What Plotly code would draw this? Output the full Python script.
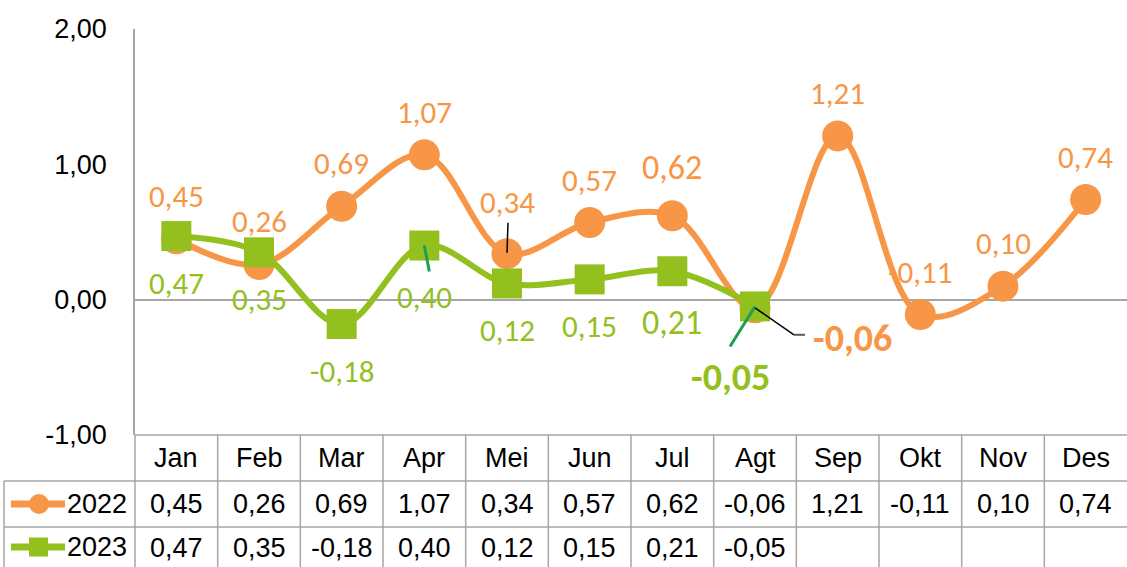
import plotly.graph_objects as go

months = ["Jan", "Feb", "Mar", "Apr", "Mei", "Jun", "Jul", "Agt", "Sep", "Okt", "Nov", "Des"]
values_2022 = [0.45, 0.26, 0.69, 1.07, 0.34, 0.57, 0.62, -0.06, 1.21, -0.11, 0.10, 0.74]
values_2023 = [0.47, 0.35, -0.18, 0.40, 0.12, 0.15, 0.21, -0.05]
series_names = ["2022", "2023"]
y_ticks = [-1, 0, 1, 2]

ORANGE = "#F79646"
GREEN = "#93C01F"
LEADER_GREEN = "#1E9E50"
GRID = "#A6A6A6"
W, H = 1127, 567
TABLE_FONT = "Liberation Sans Narrow, Arial Narrow, Liberation Sans, Arial"
TABLE_SIZE = 27
LABEL_FONT = "Carlito, Calibri, Lato, Open Sans"


def fmt(v):
    return f"{v:.2f}".replace(".", ",")


def px(x):
    return x / W


def py(y):
    return 1 - y / H


fig = go.Figure()
fig.add_trace(go.Scatter(
    x=months, y=values_2022, mode="lines+markers", name=series_names[0],
    line=dict(color=ORANGE, width=6, shape="spline", smoothing=1),
    marker=dict(symbol="circle", size=31, color=ORANGE),
    showlegend=False, hoverinfo="skip"))
fig.add_trace(go.Scatter(
    x=months[:len(values_2023)], y=values_2023, mode="lines+markers", name=series_names[1],
    line=dict(color=GREEN, width=6, shape="spline", smoothing=1),
    marker=dict(symbol="square", size=30, color=GREEN),
    showlegend=False, hoverinfo="skip"))

annotations = []
shapes = []

# data labels 2022 (x shift, y shift, size, bold)
style_2022 = {
    "Mei": (0, 52, 31, False),
    "Jul": (0, 48, 34, False),
    "Agt": (97, -30, 38, True),
}
for m, v in zip(months, values_2022):
    dx, dy, sz, bold = style_2022.get(m, (0, 43, 31, False))
    annotations.append(dict(
        x=m, y=v, xref="x", yref="y", showarrow=False,
        text=f"<b>{fmt(v)}</b>" if bold else fmt(v),
        xshift=dx, yshift=dy, xanchor="center", yanchor="middle",
        font=dict(family=LABEL_FONT, size=sz, color=ORANGE)))

style_2023 = {
    "Apr": (0, -51, 31, False),
    "Jul": (0, -51, 34, False),
    "Agt": (-25, -71, 38, True),
}
for m, v in zip(months, values_2023):
    dx, dy, sz, bold = style_2023.get(m, (0, -47, 31, False))
    annotations.append(dict(
        x=m, y=v, xref="x", yref="y", showarrow=False,
        text=f"<b>{fmt(v)}</b>" if bold else fmt(v),
        xshift=dx, yshift=dy, xanchor="center", yanchor="middle",
        font=dict(family=LABEL_FONT, size=sz, color=GREEN)))

# leader lines (pixel offsets relative to data points)
def leader(m, v, path, color, width):
    shapes.append(dict(
        type="path", xref="x", yref="y", xsizemode="pixel", ysizemode="pixel",
        xanchor=m, yanchor=v, path=path, line=dict(color=color, width=width)))

leader("Mei", values_2022[4], "M0,1 L1,31", "#000000", 1.5)
leader("Apr", values_2023[3], "M0,0 L5,-26", LEADER_GREEN, 3)
leader("Agt", values_2023[7], "M0,0 L-25,-40", LEADER_GREEN, 3)
leader("Agt", values_2022[7], "M0,0 L39,-27", "#000000", 1.5)
leader("Agt", values_2022[7], "M39,-27 L50,-27", "#595959", 2)

# table grid
line_style = dict(color=GRID, width=1.5)
shapes.append(dict(type="line", xref="paper", yref="paper", x0=px(135), x1=1, y0=py(435), y1=py(435), line=line_style))
shapes.append(dict(type="line", xref="paper", yref="paper", x0=px(4), x1=1, y0=py(481), y1=py(481), line=line_style))
shapes.append(dict(type="line", xref="paper", yref="paper", x0=px(4), x1=1, y0=py(527), y1=py(527), line=line_style))
shapes.append(dict(type="line", xref="paper", yref="paper", x0=px(4), x1=px(4), y0=py(481), y1=0, line=line_style))
shapes.append(dict(type="line", xref="paper", yref="paper", x0=px(135), x1=px(135), y0=py(435), y1=0, line=line_style))
for i in range(len(months) - 1):
    shapes.append(dict(type="line", xref="x", yref="paper", x0=i + 0.5, x1=i + 0.5,
                       y0=py(435), y1=0, line=line_style))

# table text
tfont = dict(family=TABLE_FONT, size=TABLE_SIZE, color="#000000")
for m in months:
    annotations.append(dict(x=m, y=py(458), xref="x", yref="paper", showarrow=False, text=m,
                            xanchor="center", yanchor="middle", font=tfont))
for m, v in zip(months, values_2022):
    annotations.append(dict(x=m, y=py(504), xref="x", yref="paper", showarrow=False, text=fmt(v),
                            xanchor="center", yanchor="middle", font=tfont))
for m, v in zip(months, values_2023):
    annotations.append(dict(x=m, y=py(548), xref="x", yref="paper", showarrow=False, text=fmt(v),
                            xanchor="center", yanchor="middle", font=tfont))

# legend keys inside table
for name, yc, color, sym in [(series_names[0], 504, ORANGE, "circle"), (series_names[1], 547, GREEN, "square")]:
    shapes.append(dict(type="line", xref="paper", yref="paper", x0=px(11), x1=px(65), y0=py(yc), y1=py(yc),
                       line=dict(color=color, width=7)))
    if sym == "circle":
        shapes.append(dict(type="circle", xref="paper", yref="paper", x0=px(29), x1=px(49),
                           y0=py(yc + 10), y1=py(yc - 10), fillcolor=color, line=dict(width=0)))
    else:
        shapes.append(dict(type="rect", xref="paper", yref="paper", x0=px(29), x1=px(48),
                           y0=py(yc + 9.5), y1=py(yc - 9.5), fillcolor=color, line=dict(width=0)))
    annotations.append(dict(x=px(129), y=py(yc), xref="paper", yref="paper", showarrow=False, text=name,
                            xanchor="right", yanchor="middle", font=tfont))

fig.update_layout(
    width=W, height=H, margin=dict(l=0, r=0, t=0, b=0, autoexpand=False),
    paper_bgcolor="white", plot_bgcolor="white",
    xaxis=dict(domain=[px(135), 1], range=[-0.5, 11.5], showticklabels=False, showgrid=False,
               zeroline=False, showline=False, ticks="", fixedrange=True, automargin=False),
    yaxis=dict(domain=[py(435), py(29)], range=[-1, 2], tickvals=y_ticks,
               ticktext=[fmt(t) for t in y_ticks], showgrid=False,
               zeroline=True, zerolinecolor=GRID, zerolinewidth=1.5,
               showline=True, linecolor=GRID, linewidth=1.5, ticks="",
               ticklabelstandoff=21, automargin=False, fixedrange=True,
               tickfont=tfont),
    annotations=annotations, shapes=shapes,
)

fig.write_html("out.html", config={"displayModeBar": False},
               post_script="document.body.style.margin='0px';")
